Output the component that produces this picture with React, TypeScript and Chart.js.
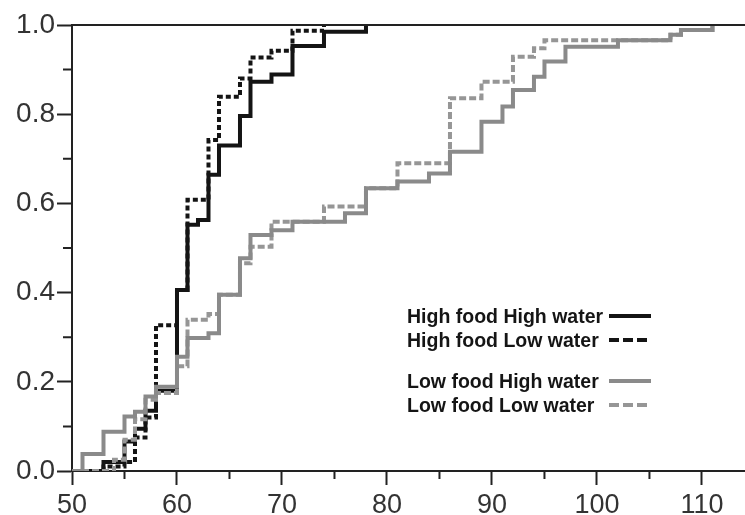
import React, { useEffect, useRef } from "react";
import { Chart, registerables } from "chart.js";

Chart.register(...registerables);

// ---- data ----
const seriesLabels = [
  "High food High water",
  "High food Low water",
  "Low food High water",
  "Low food Low water",
];

const hhX = [50, 53, 55, 56, 57, 58, 60, 61, 62, 63, 64, 66, 67, 69, 71, 74, 78];
const hhY = [0, 0.02, 0.066, 0.095, 0.135, 0.18, 0.406, 0.552, 0.563, 0.664, 0.73, 0.796, 0.873, 0.889, 0.953, 0.985, 1.0];

const hlX = [50, 53, 55, 56, 57, 58, 60, 61, 63, 64, 66, 67, 69, 71, 74];
const hlY = [0, 0.01, 0.02, 0.075, 0.12, 0.327, 0.406, 0.608, 0.742, 0.839, 0.88, 0.927, 0.942, 0.987, 1.0];

const lhX = [50, 51, 53, 55, 56, 57, 58, 60, 61, 63, 64, 66, 67, 69, 71, 76, 78, 81, 84, 86, 89, 91, 92, 94, 95, 97, 102, 107, 108, 111];
const lhY = [0, 0.038, 0.088, 0.122, 0.133, 0.167, 0.189, 0.256, 0.298, 0.309, 0.395, 0.477, 0.529, 0.54, 0.559, 0.578, 0.634, 0.649, 0.667, 0.716, 0.783, 0.817, 0.854, 0.884, 0.918, 0.951, 0.966, 0.978, 0.989, 1.0];

const llX = [50, 54, 55, 56, 57, 58, 60, 61, 63, 64, 66, 67, 69, 74, 78, 81, 86, 89, 92, 94, 95, 107, 108, 111];
const llY = [0, 0.025, 0.07, 0.116, 0.16, 0.175, 0.235, 0.339, 0.352, 0.395, 0.466, 0.503, 0.559, 0.593, 0.634, 0.69, 0.836, 0.873, 0.929, 0.948, 0.966, 0.978, 0.989, 1.0];

const xTicks = [50, 60, 70, 80, 90, 100, 110];
const xMinorTicks = [55, 65, 75, 85, 95, 105];
const yTicks = [0, 0.2, 0.4, 0.6, 0.8, 1.0];
const yMinorTicks = [0.1, 0.3, 0.5, 0.7, 0.9];

const toPoints = (xs: number[], ys: number[]) => xs.map((x, i) => ({ x, y: ys[i] }));

const AXIS_COLOR = "#222";
const BLACK = "#141414";
const GRAY = "#8a8a8a";
const GRAY_D = "#969696";
const FONT = '"Liberation Sans", Arial, Helvetica, sans-serif';

const styles = [
  { color: BLACK, dash: [] as number[], legendDash: [] as number[] },
  { color: BLACK, dash: [5, 3], legendDash: [10, 4] },
  { color: GRAY, dash: [] as number[], legendDash: [] as number[] },
  { color: GRAY_D, dash: [7, 3], legendDash: [10, 4] },
];

const decorPlugin = {
  id: "decor",
  afterDraw(chart: any) {
    const ctx = chart.ctx as CanvasRenderingContext2D;
    const area = chart.chartArea;
    const xs = chart.scales.x;
    const ys = chart.scales.y;
    ctx.save();
    // top frame line
    ctx.strokeStyle = AXIS_COLOR;
    ctx.lineWidth = 2;
    ctx.beginPath();
    ctx.moveTo(area.left, area.top);
    ctx.lineTo(chart.width, area.top);
    ctx.stroke();
    // minor ticks
    ctx.beginPath();
    xMinorTicks.forEach((v) => {
      const px = xs.getPixelForValue(v);
      ctx.moveTo(px, area.bottom);
      ctx.lineTo(px, area.bottom + 8);
    });
    yMinorTicks.forEach((v) => {
      const py = ys.getPixelForValue(v);
      ctx.moveTo(area.left, py);
      ctx.lineTo(area.left - 9, py);
    });
    ctx.stroke();

    // legend
    const textX = area.left + 335;
    const lineX0 = area.left + 537;
    const lineX1 = area.left + 579;
    const rows = [316, 340, 381, 405];
    ctx.font = `bold 19.5px ${FONT}`;
    ctx.textBaseline = "alphabetic";
    ctx.textAlign = "left";
    seriesLabels.forEach((label, i) => {
      const cy = rows[i];
      ctx.fillStyle = "#151515";
      ctx.fillText(label, textX, cy + 7);
      ctx.strokeStyle = styles[i].color;
      ctx.lineWidth = 4;
      ctx.setLineDash(styles[i].legendDash);
      ctx.beginPath();
      ctx.moveTo(lineX0, cy);
      ctx.lineTo(lineX1, cy);
      ctx.stroke();
      ctx.setLineDash([]);
    });
    ctx.restore();
  },
};

export default function App() {
  const ref = useRef<HTMLCanvasElement>(null);

  useEffect(() => {
    if (!ref.current) return;
    const series = [
      toPoints(hhX, hhY),
      toPoints(hlX, hlY),
      toPoints(lhX, lhY),
      toPoints(llX, llY),
    ];
    const chart = new Chart(ref.current, {
      type: "line",
      data: {
        datasets: series.map((data, i) => ({
          label: seriesLabels[i],
          data,
          stepped: true,
          borderColor: styles[i].color,
          borderDash: styles[i].dash,
          borderWidth: 4,
          pointRadius: 0,
          fill: false,
          borderCapStyle: "butt",
          borderJoinStyle: "miter",
          order: i < 2 ? 1 : 0,
        })),
      },
      options: {
        animation: false,
        responsive: false,
        devicePixelRatio: 1,
        layout: { padding: { top: 25, right: 0, left: 0, bottom: 0 } },
        plugins: { legend: { display: false }, tooltip: { enabled: false } },
        scales: {
          x: {
            type: "linear",
            min: 50,
            max: 114.1,
            afterBuildTicks: (s: any) => {
              s.ticks = xTicks.map((value) => ({ value }));
            },
            afterFit: (s: any) => {
              s.height = 44;
            },
            ticks: {
              padding: 4,
              color: "#333",
              font: { family: FONT, size: 27 },
              maxRotation: 0,
              autoSkip: false,
              callback: (v: any) => String(v),
            },
            grid: {
              display: true,
              drawOnChartArea: false,
              drawTicks: true,
              tickLength: 14,
              tickWidth: 2,
              tickColor: AXIS_COLOR,
            },
            border: { display: true, color: AXIS_COLOR, width: 2 },
          },
          y: {
            type: "linear",
            min: 0,
            max: 1,
            afterBuildTicks: (s: any) => {
              s.ticks = yTicks.map((value) => ({ value }));
            },
            afterFit: (s: any) => {
              s.width = 72;
            },
            ticks: {
              padding: 2,
              color: "#333",
              font: { family: FONT, size: 28 },
              callback: (v: any) => Number(v).toFixed(1),
            },
            grid: {
              display: true,
              drawOnChartArea: false,
              drawTicks: true,
              tickLength: 15,
              tickWidth: 2,
              tickColor: AXIS_COLOR,
            },
            border: { display: true, color: AXIS_COLOR, width: 2 },
          },
        },
      },
      plugins: [decorPlugin],
    } as any);
    return () => chart.destroy();
  }, []);

  return (
    <div style={{ position: "fixed", left: 0, top: 0, width: 745, height: 515, background: "#fff" }}>
      <canvas ref={ref} width={745} height={515} style={{ display: "block", width: 745, height: 515 }} />
    </div>
  );
}
